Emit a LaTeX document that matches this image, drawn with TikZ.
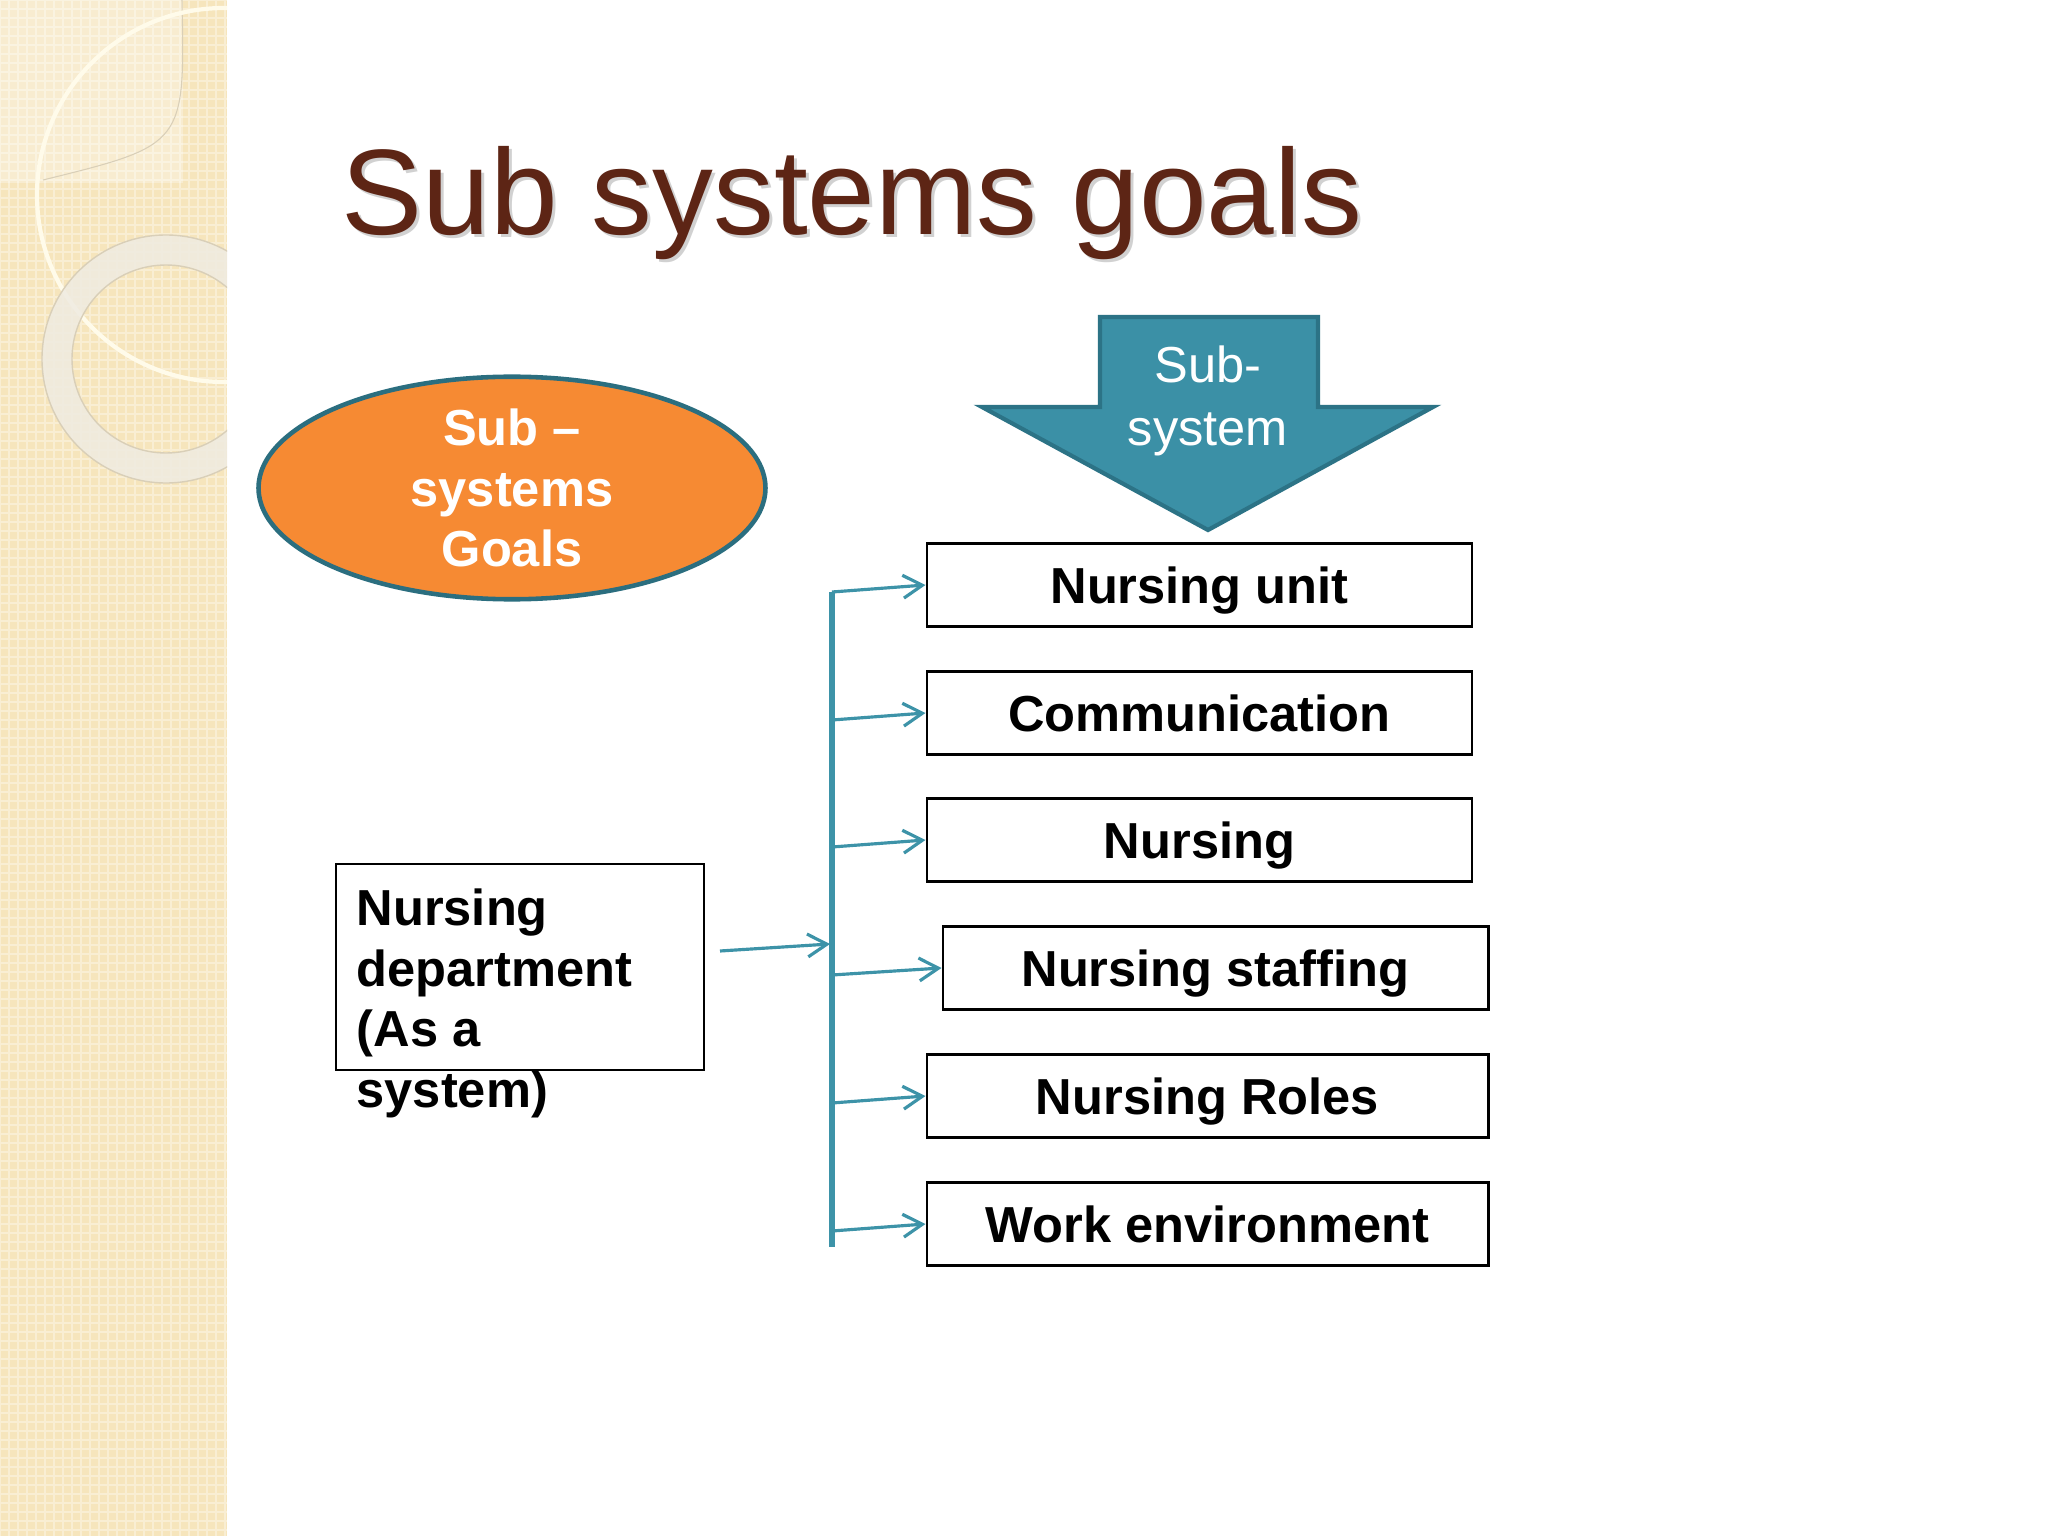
\documentclass[tikz,border=0pt]{standalone}
\usepackage{fontspec}
\setmainfont{Liberation Sans}
\usetikzlibrary{arrows.meta,shapes.geometric}

\definecolor{stripbeige}{HTML}{F6E5BC}
\definecolor{creamline}{HTML}{FFFBEA}
\definecolor{ringgrey}{HTML}{EFEBE1}
\definecolor{ringedge}{HTML}{D9CFB8}
\definecolor{titlebrown}{HTML}{5D2515}
\definecolor{goalorange}{HTML}{F68A33}
\definecolor{ellipseteal}{HTML}{2B6E7F}
\definecolor{arrowteal}{HTML}{3B90A6}
\definecolor{arrowedge}{HTML}{2C7386}
\definecolor{linkteal}{HTML}{3D93A8}

\tikzset{
  goalbox/.style={draw=black, line width=0.85pt, fill=white, inner sep=0pt,
    minimum height=0.83cm, font=\fontsize{14.4}{17}\selectfont\bfseries,
    text height=12pt, text depth=1.69pt},
  goalellipse/.style={ellipse, draw=ellipseteal, line width=1.3pt, fill=goalorange,
    minimum width=5.07cm, minimum height=2.10cm, inner sep=0pt, align=center,
    text=white, font=\fontsize{14.4}{17.1}\selectfont\bfseries},
  subarrow/.style={fill=arrowteal, draw=arrowedge, line width=1.2pt, line join=miter},
  branch/.style={draw=linkteal, line width=0.9pt, -{Straight Barb[length=5.5pt,width=6.5pt]}},
}

\begin{document}
\begin{tikzpicture}
        \useasboundingbox (0,0) rectangle (20.48,-15.36);
        \fill[white] (0,0) rectangle (20.48,-15.36);
        
        % left strip
        \begin{scope}
            \clip (0,0) rectangle (2.27,-15.36);
            \fill[stripbeige] (0,0) rectangle (2.27,-15.36);
            \draw[white, opacity=0.35, line width=0.4pt, step=0.09] (0,0) grid (2.27,-15.36);
            \fill[white, opacity=0.3] (0,0) rectangle (1.83,-1.83);
            \draw[ringedge, line width=0.3pt] (1.82,0) .. controls (1.85,-1.45) .. (0.43,-1.80);
            \draw[creamline, line width=1.2pt] (2.24,-1.95) circle (1.87);
            \fill[ringgrey, opacity=0.85, even odd rule] (1.66,-3.59) circle (1.24) (1.66,-3.59) circle (0.94);
            \draw[ringedge, line width=0.4pt] (1.66,-3.59) circle (1.24) (1.66,-3.59) circle (0.94);
        \end{scope}
        
        \node[anchor=base west, inner sep=0pt, text=black, opacity=0.18,
              font=\fontsize{34.6}{40}\selectfont] (titleshadow) at (3.44,-2.38) {Sub systems goals};
        \node[anchor=base west, inner sep=0pt, text=titlebrown,
              font=\fontsize{34.6}{40}\selectfont] (title) at (3.41,-2.35) {Sub systems goals};
        
        \node[goalellipse] (goals) at (5.12,-4.88) {Sub –\\systems\\Goals};
        
        \draw[subarrow] (11.00,-3.17) -- (13.18,-3.17) -- (13.18,-4.07) -- (14.33,-4.07)
              -- (12.08,-5.30) -- (9.82,-4.07) -- (11.00,-4.07) -- cycle;
        \node[align=center, text=white, inner sep=0pt,
              font=\fontsize{14.4}{17.9}\selectfont] (subsys) at (12.08,-4.01) {Sub-\\system};
        
        \node[goalbox, minimum width=5.45cm] (unit) at (11.995,-5.85) {Nursing unit};
        \node[goalbox, minimum width=5.45cm] (comm) at (11.995,-7.13) {Communication};
        \node[goalbox, minimum width=5.45cm] (nursing) at (11.995,-8.40) {Nursing};
        \node[goalbox, minimum width=5.45cm] (staff) at (12.155,-9.68) {Nursing staffing};
        \node[goalbox, minimum width=5.61cm] (roles) at (12.075,-10.96) {Nursing Roles};
        \node[goalbox, minimum width=5.61cm] (work) at (12.075,-12.24) {Work environment};
        
        \node[draw=black, line width=0.85pt, minimum width=3.68cm, minimum height=2.06cm] (dept) at (5.20,-9.67) {};
        \node[anchor=north west, inner sep=0pt, align=left,
              font=\fontsize{14.4}{17.3}\selectfont\bfseries] (depttext) at (3.56,-8.88)
              {Nursing\\department\\(As a\\system)};
        
        \coordinate (top) at (8.32,-5.92);
        \coordinate (bottom) at (8.32,-12.47);
        \coordinate (s2) at (8.32,-7.20);
        \coordinate (s3) at (8.32,-8.47);
        \coordinate (s4) at (8.32,-9.75);
        \coordinate (s5) at (8.32,-11.03);
        \coordinate (s6) at (8.32,-12.31);
        \coordinate (d1) at (7.20,-9.51);
        \coordinate (j) at (8.30,-9.44);
        
        \draw[linkteal, line width=1.5pt] (top) -- (bottom);
        \draw[branch] (top) -- (unit.west);
        \draw[branch] (s2) -- (comm.west);
        \draw[branch] (s3) -- (nursing.west);
        \draw[branch] (s4) -- (staff.west);
        \draw[branch] (s5) -- (roles.west);
        \draw[branch] (s6) -- (work.west);
        \draw[branch] (d1) -- (j);
    \end{tikzpicture}
\end{document}
